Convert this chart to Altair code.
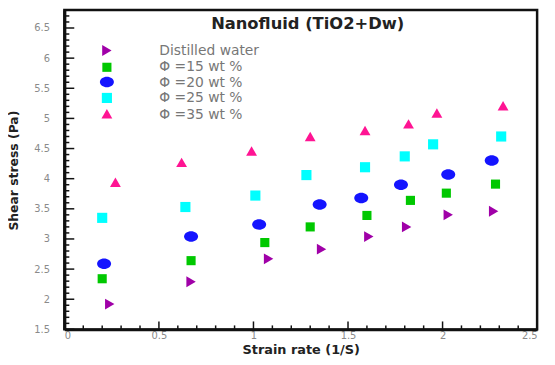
import altair as alt
import pandas as pd
import numpy as np

# ---- data ----
series = ["Distilled water", "Φ =15 wt %", "Φ =20 wt %", "Φ =25 wt %", "Φ =35 wt %"]
x_dw = [0.24, 0.67, 1.08, 1.36, 1.61, 1.81, 2.03, 2.27]
y_dw = [1.92, 2.29, 2.67, 2.83, 3.04, 3.20, 3.40, 3.46]
x_15 = [0.20, 0.67, 1.06, 1.30, 1.60, 1.83, 2.02, 2.28]
y_15 = [2.34, 2.64, 2.94, 3.20, 3.39, 3.64, 3.76, 3.91]
x_20 = [0.21, 0.67, 1.03, 1.35, 1.57, 1.78, 2.03, 2.26]
y_20 = [2.59, 3.04, 3.24, 3.57, 3.68, 3.90, 4.07, 4.30]
x_25 = [0.20, 0.64, 1.01, 1.28, 1.59, 1.80, 1.95, 2.31]
y_25 = [3.35, 3.53, 3.72, 4.06, 4.19, 4.37, 4.57, 4.70]
x_35 = [0.27, 0.62, 0.99, 1.30, 1.59, 1.82, 1.97, 2.32]
y_35 = [3.94, 4.27, 4.46, 4.70, 4.80, 4.91, 5.09, 5.21]
x_ticks = [0, 0.5, 1, 1.5, 2, 2.5]
y_ticks = [1.5, 2, 2.5, 3, 3.5, 4, 4.5, 5, 5.5, 6, 6.5]
title_text = "Nanofluid (TiO2+Dw)"

xs = [x_dw, x_15, x_20, x_25, x_35]
ys = [y_dw, y_15, y_20, y_25, y_35]

# ---- styles ----
H = 323
colors = ["#a000a8", "#00c800", "#1414ff", "#00ffff", "#ff1493"]
ellipse = "M -1 0 A 1 0.75 0 1 0 1 0 A 1 0.75 0 1 0 -1 0 Z"
shapes = ["triangle-right", "square", ellipse, "square", "triangle-up"]
sizes = [120, 85, 200, 105, 120]
legend_sym_y = [49, 66, 81, 97, 113]
legend_txt_y = [50, 66, 82, 97, 114]
FONT = "DejaVu Sans"

xscale = alt.Scale(domain=[0, 2.5], nice=False, zero=False)
yscale = alt.Scale(domain=[1.5, 6.8], nice=False, zero=False)
xaxis = alt.Axis(values=x_ticks, format="~g", ticks=False, grid=False, labelPadding=1,
                 title="Strain rate (1/S)", titleY=24, titleBaseline="alphabetic",
                 titleFontSize=13)
yaxis = alt.Axis(values=y_ticks, format="~g", ticks=False, grid=False, labelPadding=15,
                 title="Shear stress (Pa)", titleX=-44, titleY=162, titleFontSize=12.5)

layers = []
for name, xv, yv, c, sh, sz in zip(series, xs, ys, colors, shapes, sizes):
    df = pd.DataFrame({"x": xv, "y": yv, "series": name})
    layers.append(
        alt.Chart(df).mark_point(shape=sh, filled=True, opacity=1, size=sz, color=c, strokeWidth=0)
        .encode(x=alt.X("x:Q", scale=xscale, axis=xaxis),
                y=alt.Y("y:Q", scale=yscale, axis=yaxis))
    )

# inward axis ticks
yv_all = np.round(np.arange(1.5, 6.81, 0.1), 2)
y_major = [v for v in yv_all if abs(v * 2 - round(v * 2)) < 1e-6]
y_minor = [v for v in yv_all if abs(v * 2 - round(v * 2)) >= 1e-6]
xv_all = np.round(np.arange(0, 2.51, 0.1), 2)
x_major = [v for v in xv_all if abs(v * 2 - round(v * 2)) < 1e-6 and 0 < v < 2.5]
x_minor = [v for v in xv_all if abs(v * 2 - round(v * 2)) >= 1e-6]

for vals, ln in [(y_major, 10), (y_minor, 5)]:
    layers.append(
        alt.Chart(pd.DataFrame({"y": vals})).mark_rule(color="#111", strokeWidth=1.5)
        .encode(y=alt.Y("y:Q", scale=yscale, axis=yaxis), x=alt.value(0), x2=alt.value(ln))
    )
for vals, ln in [(x_major, 8), (x_minor, 4)]:
    layers.append(
        alt.Chart(pd.DataFrame({"x": vals})).mark_rule(color="#111", strokeWidth=1.5)
        .encode(x=alt.X("x:Q", scale=xscale, axis=xaxis), y=alt.value(H), y2=alt.value(H - ln))
    )

# custom legend
for name, c, sh, sz, sy, ty in zip(series, colors, shapes, sizes, legend_sym_y, legend_txt_y):
    d = pd.DataFrame({"s": [name]})
    layers.append(
        alt.Chart(d).mark_point(shape=sh, filled=True, opacity=1, size=sz, color=c, strokeWidth=0)
        .encode(x=alt.value(43), y=alt.value(sy - 8))
    )
    layers.append(
        alt.Chart(d).mark_text(align="left", baseline="middle", font=FONT, fontSize=14, color="#777777")
        .encode(text="s:N", x=alt.value(96), y=alt.value(ty - 8))
    )

layers.append(
    alt.Chart(pd.DataFrame({"t": [title_text]})).mark_text(
        align="center", baseline="middle", font=FONT, fontSize=16.5, fontWeight="bold", color="#222")
    .encode(text="t:N", x=alt.value(246), y=alt.value(14))
)

chart = alt.layer(*layers).properties(
    width=478, height=H,
    padding={"left": 57, "top": 0, "right": 10, "bottom": 26},
    autosize="none",
    background="white",
).configure_view(stroke="#111", strokeWidth=2.5).configure_axis(
    domainColor="#111", domainWidth=3,
    labelColor="#8a8a8a", labelFont=FONT, labelFontSize=10,
    titleColor="#222", titleFont=FONT, titleFontSize=14, titleFontWeight="bold",
)

chart.save("out.html", embed_options={"renderer": "svg", "actions": False})
